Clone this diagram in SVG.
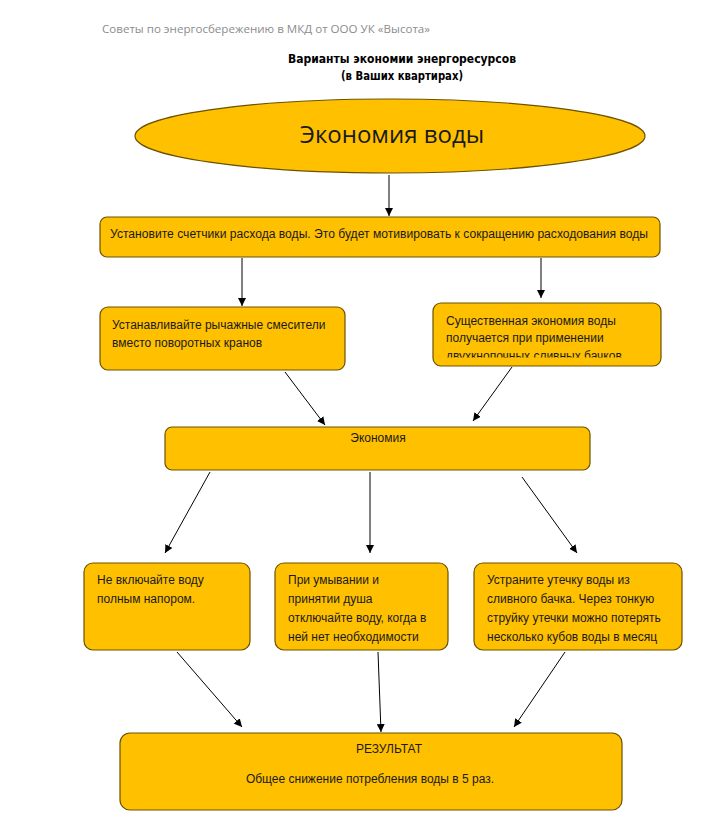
<svg xmlns="http://www.w3.org/2000/svg" width="714" height="820" viewBox="0 0 714 820">
<style>
.n{fill:#FFC000;stroke:#6b5200;stroke-width:1.2}
.t{font-family:"Liberation Sans",Arial,sans-serif;font-size:12px;fill:#1a1a1a}
.c{stroke:#000;stroke-width:1;fill:none;marker-end:url(#ah)}
</style>
<defs>
<marker id="ah" viewBox="0 0 10 10" refX="10" refY="5" markerWidth="8" markerHeight="8" markerUnits="userSpaceOnUse" orient="auto">
<path d="M0,0 L10,5 L0,10 z" fill="#000"/>
</marker>
<clipPath id="clip3"><rect x="433" y="303" width="228" height="54.5"/></clipPath>
</defs>
<rect width="714" height="820" fill="#fff"/>
<text x="102" y="33" font-family="'Open Sans','Liberation Sans',sans-serif" font-size="11" fill="#8c8c8c" textLength="328" lengthAdjust="spacingAndGlyphs">Советы по энергосбережению в МКД от ООО УК «Высота»</text>
<g id="title" font-family="'DejaVu Sans Condensed','DejaVu Sans',sans-serif" font-weight="bold" font-size="12" text-anchor="middle" fill="#000">
<text x="402" y="63" textLength="228" lengthAdjust="spacingAndGlyphs">Варианты экономии энергоресурсов</text>
<text x="402" y="80" textLength="122" lengthAdjust="spacingAndGlyphs">(в Ваших квартирах)</text>
</g>
<g id="connectors">
<line class="c" x1="389" y1="175" x2="389" y2="216"/>
<line class="c" x1="242" y1="258" x2="242" y2="306"/>
<line class="c" x1="541" y1="258" x2="541" y2="298"/>
<line class="c" x1="285" y1="372" x2="325" y2="425"/>
<line class="c" x1="512" y1="367" x2="473" y2="421"/>
<line class="c" x1="210" y1="472" x2="165" y2="553"/>
<line class="c" x1="370" y1="472" x2="370" y2="553"/>
<line class="c" x1="522" y1="477" x2="577" y2="553"/>
<line class="c" x1="177" y1="652" x2="242" y2="727"/>
<line class="c" x1="378" y1="652" x2="381" y2="732"/>
<line class="c" x1="565" y1="652" x2="514" y2="727"/>
</g>
<g id="n0">
<ellipse class="n" cx="390" cy="136" rx="255" ry="37"/>
<text x="392" y="143" text-anchor="middle" font-family="'Open Sans','Liberation Sans',sans-serif" font-size="24" fill="#1a1a1a">Экономия воды</text>
</g>
<g id="n1">
<rect class="n" x="100" y="217" width="560" height="40" rx="7"/>
<text class="t" x="110" y="238" textLength="538" lengthAdjust="spacingAndGlyphs">Установите счетчики расхода воды. Это будет мотивировать к сокращению расходования воды</text>
</g>
<g id="n2">
<rect class="n" x="100" y="307" width="245" height="63" rx="8"/>
<text class="t" x="112" y="329">Устанавливайте рычажные смесители</text>
<text class="t" x="112" y="347">вместо поворотных кранов</text>
</g>
<g id="n3">
<rect class="n" x="433" y="303" width="228" height="63" rx="8"/>
<g clip-path="url(#clip3)">
<text class="t" x="446" y="325">Существенная экономия воды</text>
<text class="t" x="446" y="342">получается при применении</text>
<text class="t" x="446" y="359.5">двухкнопочных сливных бачков</text>
</g>
</g>
<g id="n4">
<rect class="n" x="165" y="427" width="425" height="43" rx="7"/>
<text class="t" x="378" y="442" text-anchor="middle">Экономия</text>
</g>
<g id="n5">
<rect class="n" x="84" y="563" width="166" height="87" rx="9"/>
<text class="t" x="97" y="584">Не включайте воду</text>
<text class="t" x="97" y="603">полным напором.</text>
</g>
<g id="n6">
<rect class="n" x="275" y="563" width="173" height="87" rx="9"/>
<text class="t" x="288" y="584">При умывании  и</text>
<text class="t" x="288" y="603">принятии душа</text>
<text class="t" x="288" y="622">отключайте воду,  когда в</text>
<text class="t" x="288" y="641">ней нет необходимости</text>
</g>
<g id="n7">
<rect class="n" x="474" y="563" width="208" height="87" rx="9"/>
<text class="t" x="487" y="584">Устраните утечку воды  из</text>
<text class="t" x="487" y="603">сливного бачка. Через тонкую</text>
<text class="t" x="487" y="622">струйку утечки можно потерять</text>
<text class="t" x="487" y="641">несколько кубов воды  в месяц</text>
</g>
<g id="n8">
<rect class="n" x="120" y="733" width="502" height="77" rx="10"/>
<text class="t" x="389" y="753" text-anchor="middle">РЕЗУЛЬТАТ</text>
<text class="t" x="370" y="783" text-anchor="middle" font-size="12.5">Общее снижение потребления воды в  5 раз.</text>
</g>
</svg>
